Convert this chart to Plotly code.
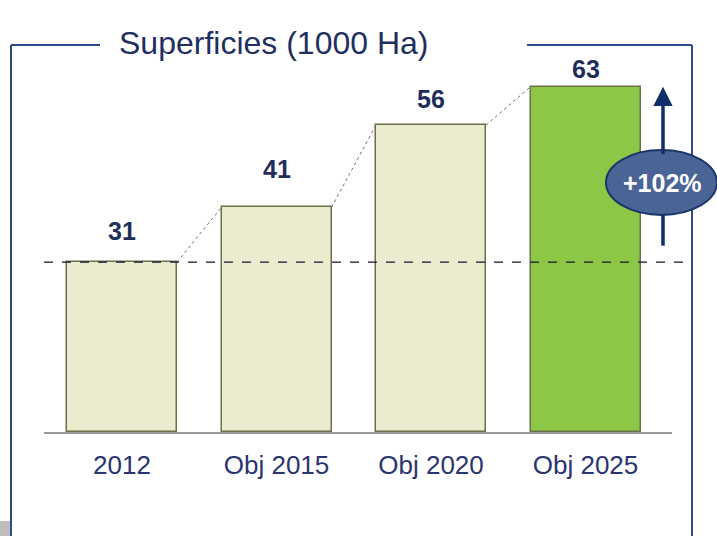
import plotly.graph_objects as go

categories = ["2012", "Obj 2015", "Obj 2020", "Obj 2025"]
values = [31, 41, 56, 63]
growth_label = "+102%"
title_text = "Superficies (1000 Ha)"

# style: per-label vertical offsets (px) as in the original slide
label_shift = [15, 22, 10, 2]
bar_colors = ["#EBEBCF", "#EBEBCF", "#EBEBCF", "#8CC846"]
navy = "#1F2D5C"
frame_col = "#2B4C86"

W, H = 717, 536
L, R, T, B = 44, 45, 45, 104
pw = W - L - R
ph = H - T - B
step = 154.5
x0 = -(122 - L) / step
x1 = x0 + pw / step
ppu = 5.48
ymax = ph / ppu
bw = 110 / step


def px(p):
    return (p - L) / pw


def py(p):
    return (T + ph - p) / ph


xs = list(range(len(categories)))

fig = go.Figure()
fig.add_trace(go.Bar(
    x=xs, y=values, width=bw,
    marker=dict(color=bar_colors, line=dict(color="#6E6E48", width=1.5)),
    hoverinfo="skip", showlegend=False,
))

# dotted connectors between bar tops
for i in range(len(values) - 1):
    fig.add_trace(go.Scatter(
        x=[xs[i] + bw / 2, xs[i + 1] - bw / 2], y=[values[i], values[i + 1]],
        mode="lines", line=dict(color="#707070", width=1, dash="dot"),
        hoverinfo="skip", showlegend=False,
    ))

# value labels
for x, v, s in zip(xs, values, label_shift):
    fig.add_annotation(x=x, y=v, text=f"<b>{v}</b>", showarrow=False,
                       yanchor="bottom", yshift=s,
                       font=dict(family="Liberation Sans, Arial", size=25, color=navy))

# reference dashed line at first value
fig.add_shape(type="line", xref="paper", yref="y", x0=0, x1=px(690),
              y0=values[0], y1=values[0], line=dict(color="#14142E", width=1.2, dash="dash"),
              layer="above")

# arrow
ax_x = x0 + (663 - L) / step
ell_ytop = (432 - 150) / ppu
ell_ybot = (432 - 215) / ppu
arrow_bottom = values[0] + 3
fig.add_shape(type="line", xref="x", yref="y", x0=ax_x, x1=ax_x,
              y0=arrow_bottom, y1=ell_ybot + 1, line=dict(color="#102F6A", width=3.5))
fig.add_annotation(x=ax_x, y=values[-1], ax=ax_x, ay=ell_ytop - 1, xref="x", yref="y",
                   axref="x", ayref="y", showarrow=True, arrowhead=2, arrowsize=1.1,
                   arrowwidth=3.5, arrowcolor="#102F6A", text="")
fig.add_shape(type="circle", xref="paper", yref="paper", x0=px(606), x1=px(717),
              y0=py(215), y1=py(150), fillcolor="#4B6496",
              line=dict(color="#1C3568", width=2), layer="above")
fig.add_annotation(xref="paper", yref="paper", x=px(662), y=py(182.5),
                   xanchor="center", yanchor="middle", text=f"<b>{growth_label}</b>",
                   showarrow=False, font=dict(family="Liberation Sans, Arial", size=25, color="white"))

# frame with gap for title
fl = px(11)
fr = px(692)
fb = py(560)
for (a, b, c, d) in [(fl, py(45), px(100), py(45)), (px(527), py(45), fr, py(45)),
                     (fl, fb, fl, py(45)), (fr, fb, fr, py(45))]:
    fig.add_shape(type="line", xref="paper", yref="paper", x0=a, y0=b, x1=c, y1=d,
                  line=dict(color=frame_col, width=2), layer="below")
fig.add_annotation(xref="paper", yref="paper", x=px(117), y=py(43),
                   xanchor="left", yanchor="middle", text=title_text, showarrow=False,
                   font=dict(family="Liberation Sans, Arial", size=32, color="#1F3060"))

# small grey corner square
fig.add_shape(type="rect", xref="paper", yref="paper", x0=px(0), x1=px(10),
              y0=py(536), y1=py(521), fillcolor="#BDBDBD",
              line=dict(width=0), layer="below")

fig.update_layout(
    width=W, height=H, margin=dict(l=L, r=R, t=T, b=B),
    paper_bgcolor="white", plot_bgcolor="white", bargap=0,
    xaxis=dict(range=[x0, x1], tickvals=xs, ticktext=categories, showgrid=False,
               zeroline=False, showline=True, linecolor="#9A9A9A", linewidth=1.5,
               ticks="outside", ticklen=9, tickcolor="rgba(0,0,0,0)",
               tickfont=dict(family="Liberation Sans, Arial", size=26, color="#2A3470")),
    yaxis=dict(range=[0, ymax], visible=False, showgrid=False),
    showlegend=False,
)

fig.write_html("out.html", config={"displayModeBar": False},
               post_script="document.body.style.margin='0px';document.body.style.overflow='hidden';")
